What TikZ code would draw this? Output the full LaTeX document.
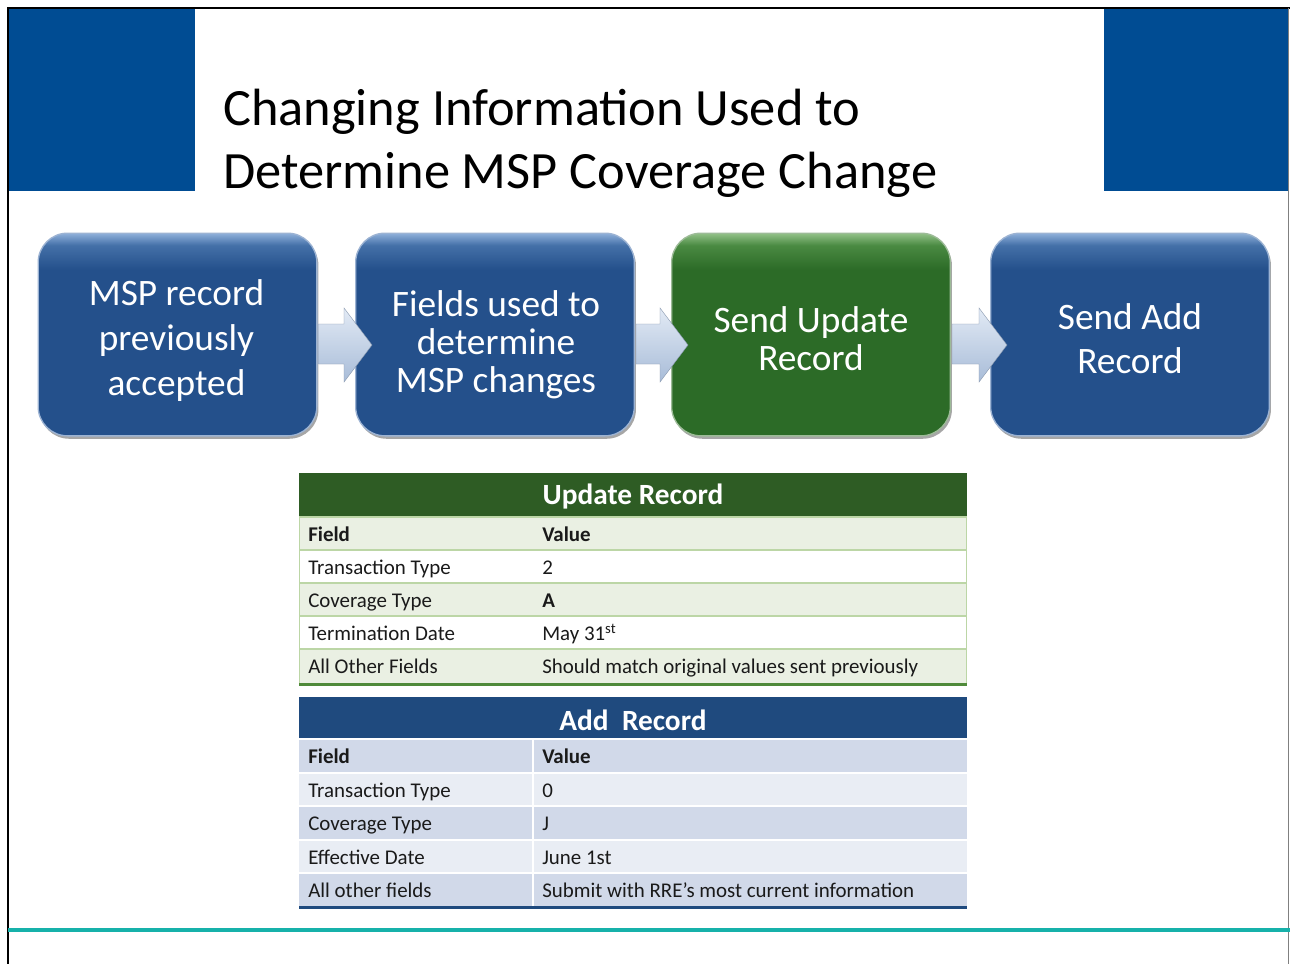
\documentclass[tikz,border=0pt]{standalone}
\usepackage{fontspec}
\setmainfont{Carlito}
\usetikzlibrary{calc,shadows}
\definecolor{slideblue}{HTML}{004C93}
\definecolor{boxblue}{HTML}{24508B}
\definecolor{boxbluemid}{HTML}{4470A8}
\definecolor{boxbluetop}{HTML}{8FB0DA}
\definecolor{boxgreen}{HTML}{2C6B27}
\definecolor{boxgreenmid}{HTML}{4A8A42}
\definecolor{boxgreentop}{HTML}{93C289}
\definecolor{rimblue}{HTML}{9CB3D3}
\definecolor{rimgreen}{HTML}{9DBB98}
\definecolor{arrowtop}{HTML}{E2EAF5}
\definecolor{arrowbot}{HTML}{A8BCD8}
\definecolor{thgreen}{HTML}{2E5C24}
\definecolor{trowg}{HTML}{EAF0E3}
\definecolor{tlineg}{HTML}{BCD6A6}
\definecolor{tbotg}{HTML}{4F8A3A}
\definecolor{thblue}{HTML}{1F4A7E}
\definecolor{trowb}{HTML}{D1D9E9}
\definecolor{trowbl}{HTML}{E9EDF4}
\definecolor{tealline}{HTML}{17B1AA}
\definecolor{celltext}{HTML}{1A1A1A}
\pgfdeclareverticalshading{blueshade}{100bp}{color(0bp)=(boxblue); color(25bp)=(boxblue); color(66bp)=(boxblue); color(72bp)=(boxbluemid); color(75bp)=(boxbluetop); color(100bp)=(boxbluetop)}
\pgfdeclareverticalshading{greenshade}{100bp}{color(0bp)=(boxgreen); color(25bp)=(boxgreen); color(66bp)=(boxgreen); color(72bp)=(boxgreenmid); color(75bp)=(boxgreentop); color(100bp)=(boxgreentop)}
\tikzset{
  stepbox/.style={rounded corners=22pt, minimum width=209pt, minimum height=152pt,
    inner sep=0pt, line width=1pt,
    drop shadow={shadow xshift=1.2pt, shadow yshift=-2.2pt, opacity=0.35, fill=black}},
  bluestep/.style={stepbox, shading=blueshade, draw=rimblue},
  greenstep/.style={stepbox, shading=greenshade, draw=rimgreen},
  steptext/.style={text=white, align=center, inner sep=0pt},
  chevron/.style={top color=arrowtop, bottom color=arrowbot, draw=arrowbot!80!black, line width=0.3pt},
  titletext/.style={anchor=base west, inner sep=0pt, text=black, font=\fontsize{39.3}{47}\selectfont},
  cell/.style={anchor=west, inner sep=0pt, text=celltext, text height=13pt, text depth=3pt, font=\fontsize{15.7}{18}\selectfont},
  headtext/.style={inner sep=0pt, text=white, font=\fontsize{22}{26}\selectfont\bfseries}
}
\begin{document}
\begin{tikzpicture}[x=0.75pt,y=-0.75pt]
\useasboundingbox (0,0) rectangle (1290,964);
\fill[white] (0,0) rectangle (1290,964);
% slide frame and corner blocks
\fill[slideblue] (8,8) rectangle (195,191);
\fill[slideblue] (1104,8) rectangle (1289,191);
\draw[black, line width=0.9pt] (8,964) -- (8,8) -- (1290,8);
\draw[gray, line width=0.8pt] (1288.5,8) -- (1288.5,964);
% title
\node[titletext] (t1) at (223,125) {Changing Information Used to};
\node[titletext] (t2) at (223,188) {Determine MSP Coverage Change};
% process boxes
\node[bluestep] (b1) at (177.5,334.5) {};
\node[bluestep] (b2) at (495,334.5) {};
\node[greenstep] (b3) at (811,334.5) {};
\node[bluestep] (b4) at (1130,334.5) {};
\node[steptext, font=\fontsize{28}{33.75}\selectfont] (b1t) at ($(b1.center)+(-1,6)$) {MSP record\\previously\\accepted};
\node[steptext, font=\fontsize{28}{28.5}\selectfont] (b2t) at ($(b2.center)+(1,10)$) {Fields used to\\determine\\MSP changes};
\node[steptext, font=\fontsize{28}{28}\selectfont] (b3t) at ($(b3.center)+(0,4)$) {Send Update\\Record};
\node[steptext, font=\fontsize{28}{33}\selectfont] (b4t) at ($(b4.center)+(0,4)$) {Send Add\\Record};
% chevron arrows
\foreach \a/\b in {b1/b2, b2/b3, b3/b4}{
  \path[chevron] ($(\a.east)+(1,-10.5)$) -- ($(\b.west)+(-11,-10.5)$) -- ($(\b.west)+(-11,-26.5)$)
    -- ($(\b.west)+(17,10.5)$) -- ($(\b.west)+(-11,47.5)$) -- ($(\b.west)+(-11,29.5)$)
    -- ($(\a.east)+(1,29.5)$) -- cycle;
}
% Update Record table
\fill[thgreen] (299,473) rectangle (967,517);
\node[headtext] (uh) at (633,497) {Update Record};
\foreach \n/\ya/\yb/\col/\f/\v in {
  1/517/550/trowg/{\textbf{Field}}/{\textbf{Value}},
  2/550/583/white/{Transaction Type}/{2},
  3/583/616/trowg/{Coverage Type}/{\textbf{A}},
  4/616/649/white/{Termination Date}/{May 31\textsuperscript{st}},
  5/649/683/trowg/{All Other Fields}/{Should match original values sent previously}}{
  \fill[\col] (299,\ya) rectangle (967,\yb);
  \node[cell] (uf\n) at (308,{(\ya+\yb)/2+1}) {\f};
  \node[cell] (uv\n) at (542,{(\ya+\yb)/2+1}) {\v};
}
\foreach \y in {517,550,583,616,649}{
  \draw[tlineg, line width=1.3pt] (299,\y) -- (967,\y);
}
\draw[tlineg, line width=1pt] (299.5,517) -- (299.5,683);
\draw[tlineg, line width=1pt] (966.5,517) -- (966.5,683);
\draw[tbotg, line width=2.4pt] (299,684.5) -- (967,684.5);
% Add Record table
\fill[thblue] (299,697) rectangle (967,739);
\node[headtext] (ah) at (633,720) {Add\ \ Record};
\foreach \n/\ya/\yb/\col/\f/\v in {
  1/739/773/trowb/{\textbf{Field}}/{\textbf{Value}},
  2/773/806/trowbl/{Transaction Type}/{0},
  3/806/840/trowb/{Coverage Type}/{J},
  4/840/873/trowbl/{Effective Date}/{June 1st},
  5/873/906/trowb/{All other fields}/{Submit with RRE’s most current information}}{
  \fill[\col] (299,\ya) rectangle (967,\yb);
  \node[cell] (af\n) at (308,{(\ya+\yb)/2+1}) {\f};
  \node[cell] (av\n) at (542,{(\ya+\yb)/2+1}) {\v};
}
\foreach \y in {739,773,806,840,873}{
  \draw[white, line width=1.5pt] (299,\y) -- (967,\y);
}
\draw[white, line width=1.5pt] (533,739) -- (533,906);
\draw[thblue, line width=2.6pt] (299,907.5) -- (967,907.5);
% bottom teal rule
\draw[tealline, line width=3pt] (8,930) -- (1290,930);
\end{tikzpicture}
\end{document}
